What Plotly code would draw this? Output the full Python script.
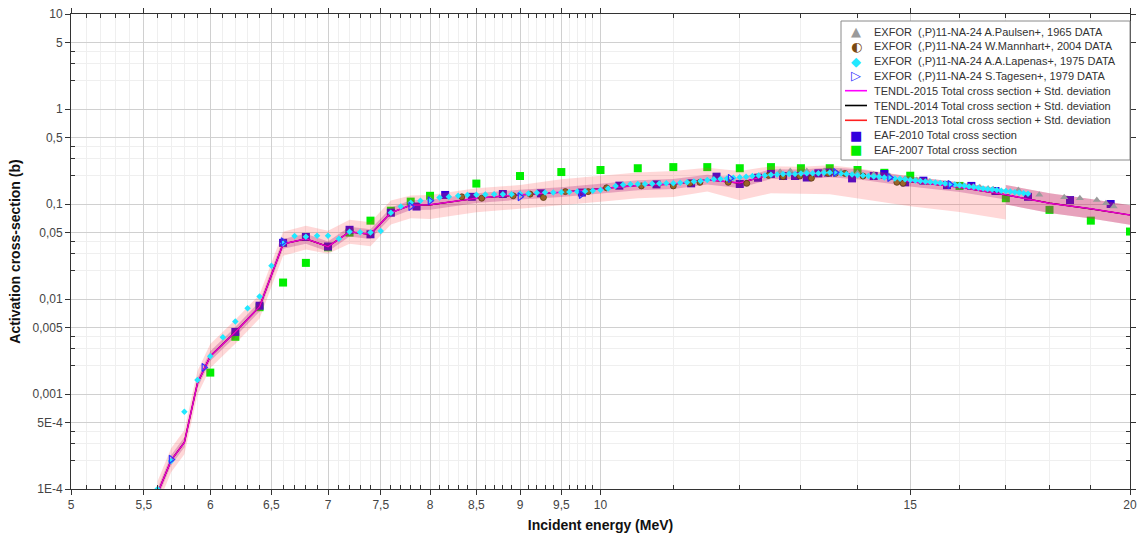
import math
import plotly.graph_objects as go

# ---------------- data ----------------
# TENDL evaluated curve (same for 2013/2014/2015 at this scale); 17 MeV duplicated (band step)
tendl_E = [5.6, 5.7, 5.8, 5.9, 6.0, 6.2, 6.4, 6.6, 6.8, 7.0, 7.2, 7.4, 7.6, 7.8, 8.0,
           8.5, 9.0, 9.5, 10.0, 10.5, 11.0, 11.5, 12.0, 12.5, 13.0, 13.5, 14.0,
           15.0, 16.0, 17.0, 17.0, 18.0, 19.0, 20.0]
tendl_xs = [0.9e-4, 2.0e-4, 3.1e-4, 1.3e-3, 2.5e-3, 4.5e-3, 8.3e-3, 0.038, 0.043, 0.0356,
            0.051, 0.048, 0.081, 0.097, 0.098, 0.115, 0.125, 0.133, 0.145, 0.157, 0.162,
            0.180, 0.166, 0.206, 0.204, 0.215, 0.205, 0.172, 0.150, 0.125, 0.125, 0.102,
            0.089, 0.0766]
# relative std. deviations (upper / lower) of TENDL-2013 (wide band)
t13_up = [0.34, 0.34, 0.34, 0.34, 0.34, 0.34, 0.34, 0.34, 0.37, 0.47, 0.34, 0.34, 0.34,
          0.27, 0.27, 0.27, 0.27, 0.37, 0.37, 0.37, 0.37, 0.34, 0.34, 0.21, 0.21, 0.19,
          0.16, 0.13, 0.13, 0.13, 0.27, 0.27, 0.27, 0.27]
t13_dn = [0.25, 0.25, 0.25, 0.25, 0.25, 0.25, 0.25, 0.25, 0.23, 0.16, 0.25, 0.25, 0.25,
          0.27, 0.29, 0.29, 0.29, 0.27, 0.27, 0.27, 0.27, 0.25, 0.34, 0.37, 0.37, 0.41,
          0.44, 0.45, 0.45, 0.45, 0.21, 0.21, 0.21, 0.21]
# relative std. deviations of TENDL-2014 / TENDL-2015 (narrow band)
t15_up = [0.13] * 30 + [0.27, 0.27, 0.27, 0.27]
t15_dn = [0.11] * 30 + [0.21, 0.21, 0.21, 0.21]

# EXFOR A.Paulsen+, 1965
paulsen_E = [12.65, 12.82, 13.1, 13.4, 13.7, 14.0, 14.3, 14.6, 14.9, 15.13, 15.39, 15.76,
             16.0, 16.29, 16.43, 16.61, 16.72, 17.28, 17.76, 18.35, 18.73, 19.15, 19.38, 19.58]
paulsen_xs = [0.219, 0.222, 0.222, 0.222, 0.218, 0.212, 0.205, 0.197, 0.186, 0.179, 0.172,
              0.1625, 0.158, 0.152, 0.150, 0.146, 0.143, 0.140, 0.125, 0.118, 0.115, 0.110,
              0.102, 0.094]

# EXFOR W.Mannhart+, 2004
mannhart_E = [8.34, 8.56, 8.92, 9.12, 9.28, 9.55, 9.84, 10.08, 10.55, 11.0, 11.24, 11.39,
              11.82, 12.11, 12.46, 12.70, 12.98, 13.18, 13.47, 13.6, 13.77, 14.1, 14.74, 14.86]
mannhart_xs = [0.119, 0.115, 0.122, 0.127, 0.117, 0.135, 0.135, 0.148, 0.155, 0.155, 0.165,
               0.169, 0.169, 0.165, 0.200, 0.194, 0.197, 0.187, 0.210, 0.210, 0.210, 0.197,
               0.169, 0.165]

# EXFOR A.A.Lapenas+, 1975
lapenas_E = [5.6, 5.7, 5.8, 5.9, 6.0, 6.1, 6.2, 6.3, 6.4, 6.5, 6.6, 6.7, 6.8, 6.9, 7.0, 7.1,
             7.2, 7.3, 7.4, 7.5, 7.6, 7.7, 7.8, 7.9, 8.0, 8.1, 8.2, 8.3, 8.4, 8.5, 8.6, 8.7,
             8.8, 8.9, 9.0, 9.1, 9.2, 9.3, 9.4, 9.5, 9.6, 9.7, 9.8, 9.9, 10.0, 10.1, 10.2,
             10.3, 10.4, 10.5, 10.6, 10.7, 10.8, 10.9, 11.0, 11.1, 11.2, 11.3, 11.4, 11.5,
             11.6, 11.7, 11.8, 11.9, 12.0, 12.1, 12.2, 12.3, 12.4, 12.5, 12.6, 12.7, 12.8,
             12.9, 13.0, 13.1, 13.2, 13.3, 13.4, 13.5, 13.6, 13.7, 13.8, 13.9, 14.0, 14.1,
             14.2, 14.3, 14.4, 14.5, 14.6, 14.7, 14.8, 14.9, 15.0, 15.1, 15.2, 15.3, 15.4,
             15.5, 15.6, 15.7, 15.8, 15.9, 16.0, 16.1, 16.2, 16.3, 16.4, 16.5, 16.6, 16.7,
             16.8, 16.9, 17.0, 17.1, 17.2, 17.3, 17.4, 17.5]
lapenas_xs = [1.0e-4, 1.97e-4, 6.5e-4, 1.40e-3, 2.5e-3, 3.95e-3, 5.8e-3, 8.0e-3, 0.0106,
              0.0224, 0.0385, 0.046, 0.0453, 0.0464, 0.0464, 0.0431, 0.051, 0.0503, 0.050,
              0.052, 0.081, 0.094, 0.103, 0.108, 0.110, 0.117, 0.119, 0.122, 0.124, 0.125,
              0.126, 0.127, 0.127, 0.127, 0.128, 0.129, 0.131, 0.132, 0.132, 0.133, 0.134,
              0.135, 0.136, 0.138, 0.140, 0.146, 0.155, 0.159, 0.161, 0.162, 0.162, 0.163,
              0.164, 0.165, 0.165, 0.167, 0.169, 0.172, 0.175, 0.179, 0.182, 0.183, 0.186,
              0.189, 0.191, 0.194, 0.197, 0.199, 0.200, 0.203, 0.205, 0.207, 0.207, 0.207,
              0.209, 0.211, 0.211, 0.211, 0.213, 0.214, 0.211, 0.209, 0.207, 0.204, 0.201,
              0.199, 0.197, 0.195, 0.193, 0.190, 0.188, 0.186, 0.184, 0.182, 0.179, 0.177,
              0.175, 0.172, 0.170, 0.168, 0.166, 0.164, 0.162, 0.160, 0.158, 0.156, 0.153,
              0.151, 0.148, 0.146, 0.144, 0.142, 0.140, 0.138, 0.137, 0.135, 0.133, 0.131,
              0.130, 0.128]

# EXFOR S.Tagesen+, 1979
tagesen_E = [5.7, 5.95, 6.6, 7.8, 8.0, 9.0, 9.75, 11.85, 13.6, 14.6, 15.8]
tagesen_xs = [2.05e-4, 1.9e-3, 0.040, 0.094, 0.108, 0.119, 0.126, 0.186, 0.215, 0.190, 0.160]

# EAF-2010
eaf10_E = [6.2, 6.4, 6.6, 6.8, 7.0, 7.2, 7.4, 7.6, 7.86, 8.16, 8.45, 8.80, 9.25, 9.76,
           10.25, 10.76, 11.26, 11.64, 12.0, 12.29, 12.5, 12.7, 12.9, 13.1, 13.3, 13.47,
           13.9, 14.3, 14.5, 14.9, 15.26, 15.74, 16.25, 16.77, 17.5, 18.49, 19.5]
eaf10_xs = [4.5e-3, 8.5e-3, 0.039, 0.045, 0.0357, 0.0535, 0.048, 0.081, 0.094, 0.1245,
            0.119, 0.1274, 0.1295, 0.132, 0.156, 0.161, 0.165, 0.194, 0.1625, 0.189, 0.207,
            0.197, 0.197, 0.190, 0.2105, 0.214, 0.186, 0.197, 0.207, 0.169, 0.176, 0.158,
            0.155, 0.137, 0.119, 0.110, 0.100]

# EAF-2007
eaf07_E = [6.0, 6.2, 6.4, 6.6, 6.8, 7.0, 7.2, 7.4, 7.6, 7.8, 8.0, 8.5, 9.0, 9.5, 10.0,
           10.5, 11.0, 11.5, 12.0, 12.5, 13.0, 13.5, 14.0, 14.5, 15.0, 16.0, 17.0, 18.0,
           19.0, 20.0]
eaf07_xs = [1.68e-3, 4.0e-3, 8.2e-3, 0.0149, 0.024, 0.035, 0.050, 0.0668, 0.085, 0.106,
            0.122, 0.164, 0.197, 0.217, 0.228, 0.238, 0.2445, 0.2445, 0.238, 0.2445, 0.238,
            0.238, 0.228, 0.213, 0.1985, 0.155, 0.115, 0.0867, 0.0668, 0.0513]

# axes ticks
x_ticks = [5, 5.5, 6, 6.5, 7, 7.5, 8, 8.5, 9, 9.5, 10, 15, 20]
x_ticktext = ["5", "5,5", "6", "6,5", "7", "7,5", "8", "8,5", "9", "9,5", "10", "15", "20"]
x_minor = [5.1, 5.2, 5.3, 5.4, 5.6, 5.7, 5.8, 5.9, 6.1, 6.2, 6.3, 6.4, 6.6, 6.7, 6.8, 6.9,
           7.1, 7.2, 7.3, 7.4, 7.6, 7.7, 7.8, 7.9, 8.1, 8.2, 8.3, 8.4, 8.6, 8.7, 8.8, 8.9,
           9.1, 9.2, 9.3, 9.4, 9.6, 9.7, 9.8, 9.9, 11, 12, 13, 14, 16, 17, 18, 19]
y_ticks = [1e-4, 5e-4, 1e-3, 5e-3, 1e-2, 5e-2, 0.1, 0.5, 1, 5, 10]
y_ticktext = ["1E-4", "5E-4", "0,001", "0,005", "0,01", "0,05", "0,1", "0,5", "1", "5", "10"]
y_minor = [2e-4, 3e-4, 4e-4, 2e-3, 3e-3, 4e-3, 2e-2, 3e-2, 4e-2, 0.2, 0.3, 0.4, 2, 3, 4]

# legend entries (symbol glyph, colour, label) in reference order
legend_items = [
    ("▲", "#9A9A9A", "EXFOR  (,P)11-NA-24 A.Paulsen+, 1965 DATA"),
    ("◐", "#7A4A12", "EXFOR  (,P)11-NA-24 W.Mannhart+, 2004 DATA"),
    ("◆", "#22E8FF", "EXFOR  (,P)11-NA-24 A.A.Lapenas+, 1975 DATA"),
    ("▷", "#3333FF", "EXFOR  (,P)11-NA-24 S.Tagesen+, 1979 DATA"),
    ("line", "#FF00FF", "TENDL-2015 Total cross section + Std. deviation"),
    ("line", "#000000", "TENDL-2014 Total cross section + Std. deviation"),
    ("line", "#FF2020", "TENDL-2013 Total cross section + Std. deviation"),
    ("■", "#3300DD", "EAF-2010 Total cross section"),
    ("■", "#00EE00", "EAF-2007 Total cross section"),
]

FONT = "Arial, Liberation Sans, sans-serif"

# page layout (window pixels)
FIG_W, FIG_H = 1139, 540
PLOT_L, PLOT_R, PLOT_T, PLOT_B = 71, 1130, 14, 489
PW, PH = PLOT_R - PLOT_L, PLOT_B - PLOT_T


def px_x(px):
    return (px - PLOT_L) / PW


def px_y(py):
    return 1 - (py - PLOT_T) / PH


fig = go.Figure()

# EAF squares first (bands drawn over them, as in the reference)
fig.add_trace(go.Scatter(x=eaf07_E, y=eaf07_xs, mode="markers", name="EAF-2007 Total cross section",
                         marker=dict(symbol="square", size=8, color="#00EE00")))
fig.add_trace(go.Scatter(x=eaf10_E, y=eaf10_xs, mode="markers", name="EAF-2010 Total cross section",
                         marker=dict(symbol="square", size=8, color="#3300DD")))


def band(up, dn, color):
    hi = [v * (1 + u) for v, u in zip(tendl_xs, up)]
    lo = [v * (1 - d) for v, d in zip(tendl_xs, dn)]
    return go.Scatter(x=tendl_E + tendl_E[::-1], y=hi + lo[::-1], fill="toself",
                      fillcolor=color, line=dict(width=0), mode="lines",
                      hoverinfo="skip")


fig.add_trace(band(t13_up, t13_dn, "rgba(255,60,60,0.20)"))
fig.add_trace(band(t15_up, t15_dn, "rgba(90,40,60,0.13)"))
fig.add_trace(band(t15_up, t15_dn, "rgba(220,0,150,0.16)"))

fig.add_trace(go.Scatter(x=tendl_E, y=tendl_xs, mode="lines", name="TENDL-2013 Total cross section + Std. deviation",
                         line=dict(color="#FF2020", width=1.2)))
fig.add_trace(go.Scatter(x=tendl_E, y=tendl_xs, mode="lines", name="TENDL-2014 Total cross section + Std. deviation",
                         line=dict(color="#000000", width=1.2)))
fig.add_trace(go.Scatter(x=tendl_E, y=tendl_xs, mode="lines", name="TENDL-2015 Total cross section + Std. deviation",
                         line=dict(color="#E800D0", width=1.5)))

fig.add_trace(go.Scatter(x=paulsen_E, y=paulsen_xs, mode="markers",
                         name="EXFOR  (,P)11-NA-24 A.Paulsen+, 1965 DATA",
                         marker=dict(symbol="triangle-up", size=7, color="#9A9A9A")))
fig.add_trace(go.Scatter(x=mannhart_E, y=mannhart_xs, mode="markers",
                         name="EXFOR  (,P)11-NA-24 W.Mannhart+, 2004 DATA",
                         marker=dict(symbol="circle", size=6, color="#9A6428",
                                     line=dict(color="#5A3A10", width=0.8))))
fig.add_trace(go.Scatter(x=lapenas_E, y=lapenas_xs, mode="markers",
                         name="EXFOR  (,P)11-NA-24 A.A.Lapenas+, 1975 DATA",
                         marker=dict(symbol="diamond", size=5, color="#22E8FF")))
fig.add_trace(go.Scatter(x=tagesen_E, y=tagesen_xs, mode="markers",
                         name="EXFOR  (,P)11-NA-24 S.Tagesen+, 1979 DATA",
                         marker=dict(symbol="triangle-right-open", size=7, color="#3333FF",
                                     line=dict(width=1.2))))

# ---- legend box drawn like the reference (compact rows) ----
LEG_L, LEG_R, LEG_T, LEG_B = 841, 1130, 21, 160
ROW0, ROW_H = 31.5, 14.8
shapes = [dict(type="rect", xref="paper", yref="paper", x0=px_x(LEG_L), x1=px_x(LEG_R),
               y0=px_y(LEG_B), y1=px_y(LEG_T), fillcolor="white",
               line=dict(color="#8A8A8A", width=1), layer="above")]
annotations = []
for i, (sym, col, label) in enumerate(legend_items):
    yc = ROW0 + i * ROW_H
    if sym == "line":
        shapes.append(dict(type="line", xref="paper", yref="paper", x0=px_x(845), x1=px_x(867),
                           y0=px_y(yc), y1=px_y(yc), line=dict(color=col, width=1.6), layer="above"))
    else:
        annotations.append(dict(text=sym, xref="paper", yref="paper", x=px_x(856), y=px_y(yc),
                                xanchor="center", yanchor="middle", showarrow=False,
                                font=dict(family="DejaVu Sans", size=13, color=col)))
    annotations.append(dict(text=label, xref="paper", yref="paper", x=px_x(872), y=px_y(yc),
                            xanchor="left", yanchor="middle", showarrow=False,
                            font=dict(family=FONT, size=11, color="#333333")))

fig.update_layout(
    width=FIG_W, height=FIG_H,
    margin=dict(l=PLOT_L, r=FIG_W - PLOT_R, t=PLOT_T, b=FIG_H - PLOT_B),
    paper_bgcolor="white", plot_bgcolor="white",
    font=dict(family=FONT, size=11, color="#333333"),
    showlegend=False, hovermode=False,
    shapes=shapes, annotations=annotations,
)

fig.update_xaxes(
    type="log", range=[math.log10(5), math.log10(20)],
    tickmode="array", tickvals=x_ticks, ticktext=x_ticktext,
    ticks="outside", ticklen=5, tickcolor="#333", tickfont=dict(size=12, color="#444"),
    ticklabeloverflow="allow",
    showline=True, linecolor="#333", linewidth=1, mirror="ticks",
    showgrid=True, gridcolor="#D0D0D0", gridwidth=1,
    minor=dict(tickvals=x_minor, ticks="inside", ticklen=4, tickcolor="#333",
               showgrid=True, gridcolor="#EFEFEF", gridwidth=1),
    title=dict(text="<b>Incident energy (MeV)</b>", font=dict(size=14, color="#111"), standoff=8),
    zeroline=False, automargin=False,
)
fig.update_yaxes(
    type="log", range=[-4, 1],
    tickmode="array", tickvals=y_ticks, ticktext=y_ticktext,
    ticks="outside", ticklen=5, tickcolor="#333", tickfont=dict(size=12, color="#444"),
    ticklabeloverflow="allow",
    showline=True, linecolor="#333", linewidth=1, mirror="ticks",
    showgrid=True, gridcolor="#D0D0D0", gridwidth=1,
    minor=dict(tickvals=y_minor, ticks="inside", ticklen=4, tickcolor="#333",
               showgrid=True, gridcolor="#EFEFEF", gridwidth=1),
    title=dict(text="<b>Activation cross-section (b)</b>", font=dict(size=14, color="#111"), standoff=8),
    zeroline=False, automargin=False,
)

# remove the default page margin so the figure fills the window exactly
fig.write_html("out.html", config={"displayModeBar": False},
               post_script="document.body.style.margin='0px';")
